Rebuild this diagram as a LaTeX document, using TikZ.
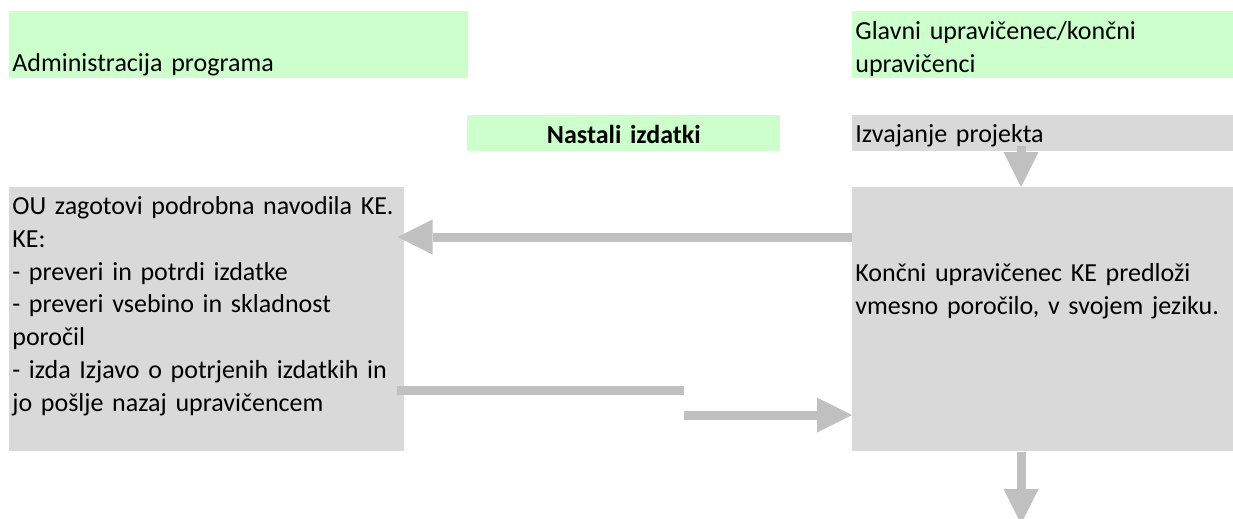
\documentclass[tikz,border=0pt]{standalone}
\usepackage{fontspec}
\setmainfont{Carlito}
\usetikzlibrary{arrows.meta}
\definecolor{boxgreen}{HTML}{CCFFCC}
\definecolor{boxgray}{HTML}{D9D9D9}
\definecolor{arrowgray}{HTML}{C0C0C0}

\begin{document}
\begin{tikzpicture}
  [x=0.02cm,y=-0.02cm,
   every node/.style={anchor=north west,inner xsep=0.06cm,inner ysep=0pt,align=left,
     font=\fontsize{14.8}{18.7}\selectfont},
   hdrbox/.style={fill=boxgreen},
   graybox/.style={fill=boxgray},
   flowline/.style={draw=arrowgray,line width=0.18cm},
   flow/.style={flowline,-{Triangle[length=0.7cm,width=0.7cm,line width=0pt]}}]

  \useasboundingbox (0,0) rectangle (1233,518);

  \node[hdrbox,text width=9.06cm,text height=1.2cm,text depth=0.14cm] (adm) at (9,11) {Administracija programa};
  \node[hdrbox,text width=7.5cm,text height=0.56cm,text depth=0.78cm] (upr) at (852,11) {Glavni upravičenec/končni\\upravičenci};
  \node[hdrbox,align=center,font=\fontsize{14.8}{18.7}\selectfont\bfseries,
    text width=6.14cm,text height=0.56cm,text depth=0.16cm] (izd) at (467,115) {Nastali izdatki};
  \node[graybox,text width=7.5cm,text height=0.54cm,text depth=0.18cm] (izv) at (852,115) {Izvajanje projekta};
  \node[graybox,text width=7.78cm,text height=0.54cm,text depth=4.74cm] (ou) at (9,187)
    {OU zagotovi podrobna navodila KE.\\KE:\\- preveri in potrdi izdatke\\- preveri vsebino in skladnost\\poročil\\- izda Izjavo o potrjenih izdatkih in\\jo pošlje nazaj upravičencem};
  \node[graybox,text width=7.5cm,text height=1.88cm,text depth=3.4cm] (kon) at (852,187)
    {Končni upravičenec KE predloži\\vmesno poročilo, v svojem jeziku.};

  \coordinate (j1) at (684,390);
  \coordinate (j2) at (684,415);
  \coordinate (out) at (1021,524);

  \draw[flow,shorten >=-0.14cm] (kon.west |- 0,237) -- (ou.east |- 0,237);
  \draw[flowline,shorten <=-0.16cm] (ou.east |- j1) -- (j1);
  \draw[flow] (j2) -- (kon.west |- j2);
  \draw[flow,shorten <=-0.12cm] (izv.south -| out) -- (kon.north -| out);
  \draw[flow] (kon.south -| out) -- (out);

\end{tikzpicture}
\end{document}
